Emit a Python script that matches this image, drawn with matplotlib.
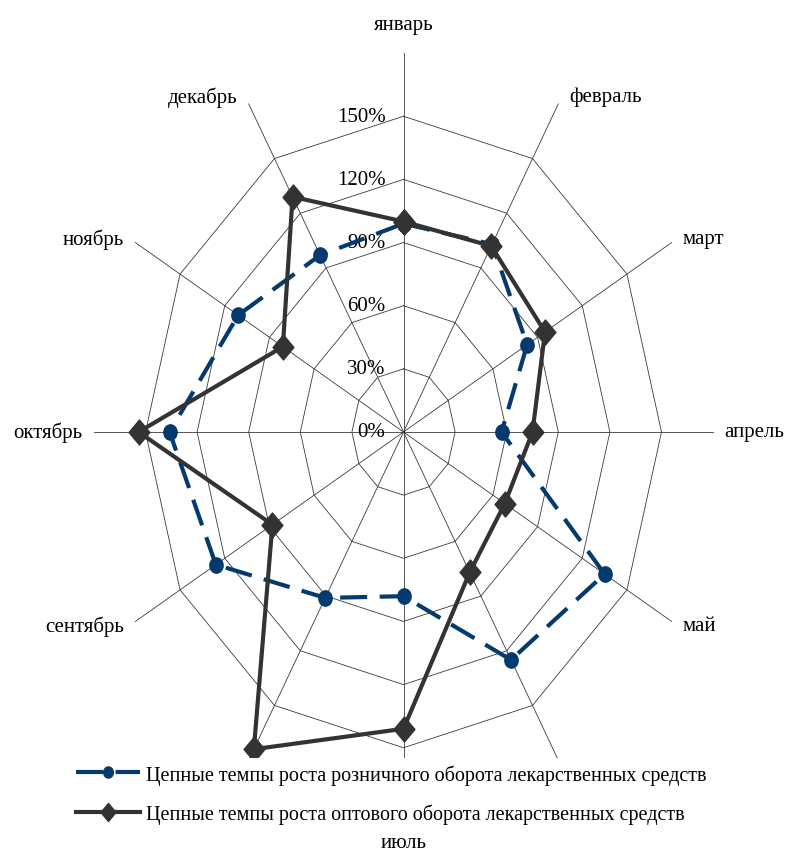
import numpy as np
import matplotlib.pyplot as plt
from matplotlib.path import Path
from matplotlib.transforms import Affine2D

plt.rcParams['font.family'] = ['Liberation Serif', 'DejaVu Serif']

months = ['январь', 'февраль', 'март', 'апрель', 'май', 'июнь',
          'июль', 'август', 'сентябрь', 'октябрь', 'ноябрь', 'декабрь']
retail = [99, 103, 83, 57, 135, 125, 78, 91, 126, 136, 111, 97]
wholesale = [100, 102, 95, 75, 68, 77, 141, 174, 88, 154, 81, 129]
ring_values = [30, 60, 90, 120, 150]
tick_values = [0, 30, 60, 90, 120, 150]
tick_labels = ['0%', '30%', '60%', '90%', '120%', '150%']
retail_name = 'Цепные темпы роста розничного оборота лекарственных средств'
wholesale_name = 'Цепные темпы роста оптового оборота лекарственных средств'
# these two month labels sit under the legend box
under_legend = {'июнь', 'август'}

W, H = 786, 854
# centre of the radar and pixels per percent (the chart is taller than wide)
cx, cy = 403.5, 433
sx, sy = 1.72, 2.105
spoke_len = 180

theta = np.arange(len(months)) * 2 * np.pi / len(months)


def to_xy(r):
    r = np.asarray(r, dtype=float)
    return r * np.sin(theta), r * np.cos(theta)


def closed(a):
    return np.append(a, a[0])


fig = plt.figure(figsize=(W / 100, H / 100), dpi=100)
ax = fig.add_axes([0, 0, 1, 1])
ax.set_xlim(-cx / sx, (W - cx) / sx)
ax.set_ylim(-(H - cy) / sy, cy / sy)
ax.axis('off')

# polygon grid and spokes
for rv in ring_values:
    gx, gy = to_xy([rv] * len(months))
    ax.plot(closed(gx), closed(gy), color='#3a3a3a', lw=0.6, zorder=1)
ex, ey = to_xy([spoke_len] * len(months))
for x1, y1 in zip(ex, ey):
    ax.plot([0, x1], [0, y1], color='#3a3a3a', lw=0.6, zorder=1)

# percent labels along the vertical axis
for v, lab in zip(tick_values, tick_labels):
    ax.text(-10.5, v, lab, ha='right', va='center', fontsize=15, zorder=2)

# month labels just outside the spoke ends
for name, t, x1, y1 in zip(months, theta, ex, ey):
    if name in under_legend:
        continue
    s, c = np.sin(t), np.cos(t)
    if s > 0.1:
        ha, dx = 'left', 8
    elif s < -0.1:
        ha, dx = 'right', -8
    else:
        ha, dx = 'center', 0
    if c > 0.9:
        va, dy = 'bottom', 14
    elif c < -0.9:
        va, dy = 'top', -16
    else:
        va, dy = 'center', 6 * c
    ax.annotate(name, (x1, y1), xytext=(dx, dy), textcoords='offset points',
                ha=ha, va=va, fontsize=15, zorder=2)

# slightly elongated markers
dot = Path.unit_circle().transformed(Affine2D().scale(1, 1.15))
diamond = Path([(0, 1.2), (1, 0), (0, -1.2), (-1, 0), (0, 1.2)],
               [Path.MOVETO, Path.LINETO, Path.LINETO, Path.LINETO, Path.CLOSEPOLY])

rx, ry = to_xy(retail)
ax.plot(closed(rx), closed(ry), color='#043a6e', lw=3, dashes=(6.5, 3),
        marker=dot, markersize=11, label=retail_name, zorder=3)
wx, wy = to_xy(wholesale)
ax.plot(closed(wx), closed(wy), color='#333333', lw=3,
        marker=diamond, markersize=18, label=wholesale_name, zorder=4)

leg = ax.legend(loc='upper left', bbox_to_anchor=(70 / W, 0.0, 670 / W, 1 - 759 / H),
                bbox_transform=fig.transFigure, mode='expand', borderaxespad=0,
                fontsize=14.5, handlelength=3.2, handletextpad=0.25,
                labelspacing=0.95, borderpad=0.3, frameon=True,
                fancybox=False, framealpha=1, edgecolor='none', facecolor='white')
leg.set_zorder(5)
# smaller markers in the legend keys
for h, ms in zip(leg.legend_handles, [8, 13]):
    h.set_markersize(ms)

fig.savefig('out.png', dpi=100)
